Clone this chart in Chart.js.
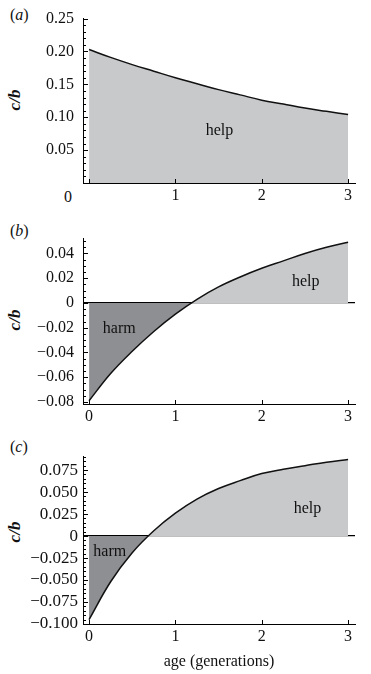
<!DOCTYPE html>
<html>
<head>
<meta charset="utf-8">
<script src="https://cdn.jsdelivr.net/npm/chart.js@4.4.0/dist/chart.umd.min.js"></script>
<style>
body{margin:0;background:#fff;width:371px;height:674px;position:relative;overflow:hidden;font-family:'Liberation Serif','Times New Roman',serif;color:#111}
.box{position:absolute;left:0;width:371px}
.tag{position:absolute;left:10px;font-size:16px;line-height:18px}
.cb{position:absolute;left:0;width:30px;height:20px;line-height:20px;text-align:center;font-size:17px;font-style:italic;font-weight:bold;transform:rotate(-90deg)}
.zero{position:absolute;left:64px;top:188px;font-size:16px;line-height:18px}
</style>
</head>
<body>
<div class="tag" style="top:6px">(<i>a</i>)</div>
<div class="tag" style="top:222px">(<i>b</i>)</div>
<div class="tag" style="top:438px">(<i>c</i>)</div>
<div class="cb" style="top:90px">c/b</div>
<div class="cb" style="top:310px">c/b</div>
<div class="cb" style="top:522px">c/b</div>
<div class="zero">0</div>
<div class="box" style="top:0;height:210px"><canvas id="chartA"></canvas></div>
<div class="box" style="top:220px;height:210px"><canvas id="chartB"></canvas></div>
<div class="box" style="top:440px;height:234px"><canvas id="chartC"></canvas></div>
<script>
// age in generations
var ages = [0, 0.25, 0.5, 0.75, 1, 1.25, 1.5, 1.75, 2, 2.25, 2.5, 2.75, 3];
var valuesA = [0.203, 0.191, 0.180, 0.170, 0.160, 0.151, 0.142, 0.134, 0.126, 0.120, 0.114, 0.109, 0.104];
var valuesB = [-0.079, -0.057, -0.039, -0.023, -0.009, 0.003, 0.013, 0.021, 0.028, 0.034, 0.040, 0.045, 0.049];
var valuesC = [-0.095, -0.052, -0.019, 0.006, 0.026, 0.042, 0.054, 0.063, 0.071, 0.076, 0.080, 0.084, 0.087];
var xTicks = [0, 1, 2, 3];

// region labels (text, age, c/b)
var labelsA = [['help', 1.51, 0.079]];
var labelsB = [['harm', 0.35, -0.021], ['help', 2.51, 0.017]];
var labelsC = [['harm', 0.24, -0.018], ['help', 2.53, 0.031]];

Chart.defaults.font.family = "'Liberation Serif', 'Times New Roman', serif";
Chart.defaults.font.size = 16;
Chart.defaults.color = '#111';

var light = '#c8c9cb';
var dark = '#8e8f92';

function fmt(v, digits) {
    if (Math.abs(v) < 1e-9) return '0';
    var s = Math.abs(v).toFixed(digits);
    return v < 0 ? '\u2212' + s : s;
}

var marks = {
    id: 'marks',
    afterDatasetsDraw: function (chart, args, o) {
        var ctx = chart.ctx, a = chart.chartArea, x = chart.scales.x, y = chart.scales.y;
        ctx.save();
        ctx.strokeStyle = '#000';
        ctx.lineWidth = 1;
        ctx.beginPath();
        var start = Math.ceil((y.min - 1e-9) / o.minor);
        for (var i = start; i * o.minor <= y.max + 1e-9; i++) {
            var v = i * o.minor;
            var p = Math.round(y.getPixelForValue(v)) + 0.5;
            var r = v / o.major;
            var major = Math.abs(r - Math.round(r)) < 1e-6;
            ctx.moveTo(a.left, p);
            ctx.lineTo(a.left + (major ? 5 : 3), p);
        }
        xTicks.forEach(function (t) {
            var px = Math.round(x.getPixelForValue(t)) + 0.5;
            ctx.moveTo(px, a.bottom);
            ctx.lineTo(px, a.bottom - 4);
        });
        ctx.stroke();
        ctx.fillStyle = '#111';
        ctx.font = "16px 'Liberation Serif', 'Times New Roman', serif";
        ctx.textAlign = 'center';
        ctx.textBaseline = 'middle';
        o.labels.forEach(function (l) {
            ctx.fillText(l[0], x.getPixelForValue(l[1]), y.getPixelForValue(l[2]));
        });
        ctx.restore();
    }
};

function makeChart(id, values, cfg) {
    var pts = ages.map(function (a, i) { return { x: a, y: values[i] }; });
    return new Chart(document.getElementById(id), {
        type: 'line',
        data: {
            datasets: [{
                data: pts,
                borderColor: '#111',
                borderWidth: 1.5,
                pointRadius: 0,
                tension: 0.4,
                fill: { target: 'origin', above: light, below: dark }
            }]
        },
        options: {
            responsive: true,
            maintainAspectRatio: false,
            animation: false,
            events: [],
            layout: { padding: { top: cfg.top, right: 16, left: 0, bottom: 0 } },
            plugins: {
                legend: { display: false },
                tooltip: { enabled: false },
                marks: { minor: cfg.minor, major: cfg.step, labels: cfg.labels }
            },
            scales: {
                x: {
                    type: 'linear',
                    min: -0.07,
                    max: 3.08,
                    afterFit: function (s) { s.height = cfg.xh; },
                    ticks: {
                        stepSize: 1,
                        includeBounds: false,
                        padding: 3,
                        maxRotation: 0,
                        callback: function (v) { return (cfg.hideZero && v === 0) ? '' : String(v); }
                    },
                    grid: { display: false, drawTicks: false },
                    border: { color: '#000', width: 1 },
                    title: cfg.title ? { display: true, text: cfg.title, font: { size: 16 }, padding: { top: 2, bottom: 3 } } : { display: false }
                },
                y: {
                    min: cfg.min,
                    max: cfg.max,
                    afterFit: function (s) { s.width = 83; },
                    ticks: {
                        stepSize: cfg.step,
                        includeBounds: false,
                        padding: cfg.ypad,
                        font: { size: cfg.yfont },
                        callback: function (v) {
                            if (cfg.hideZero && Math.abs(v) < 1e-9) return '';
                            return fmt(v, cfg.digits);
                        }
                    },
                    grid: {
                        drawTicks: false,
                        lineWidth: 1.2,
                        color: function (c) {
                            return (!cfg.hideZero && c.tick && Math.abs(c.tick.value) < 1e-9) ? '#000' : 'rgba(0,0,0,0)';
                        }
                    },
                    border: { color: '#000', width: 1 }
                }
            }
        },
        plugins: [marks]
    });
}

makeChart('chartA', valuesA, { top: 15, xh: 27, min: 0, max: 0.25, step: 0.05, minor: 0.01, digits: 2, hideZero: true, labels: labelsA, ypad: 9, yfont: 16 });
makeChart('chartB', valuesB, { top: 16, xh: 26, min: -0.0816, max: 0.052, step: 0.02, minor: 0.005, digits: 2, hideZero: false, labels: labelsB, ypad: 9, yfont: 16 });
makeChart('chartC', valuesC, { top: 16, xh: 50, min: -0.1, max: 0.091, step: 0.025, minor: 0.005, digits: 3, hideZero: false, labels: labelsC, title: 'age (generations)', ypad: 5, yfont: 17 });
</script>
</body>
</html>
